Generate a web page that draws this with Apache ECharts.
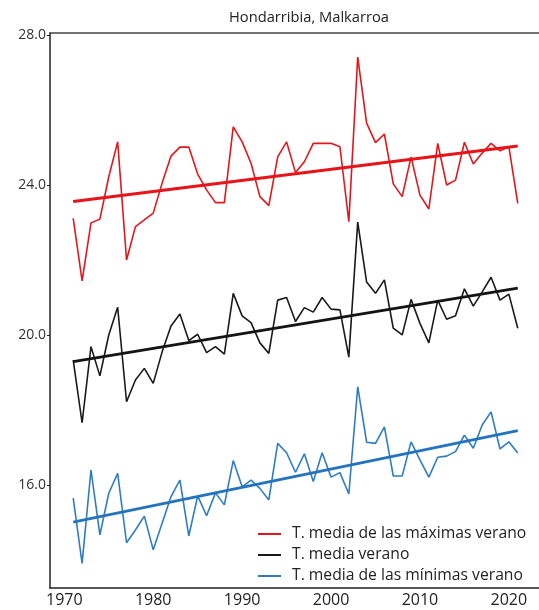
<!DOCTYPE html>
<html>
<head>
<meta charset="utf-8">
<script src="https://cdn.jsdelivr.net/npm/echarts@6/dist/echarts.min.js"></script>
<style>
html,body{margin:0;padding:0;background:#fff;}
#chart{width:539px;height:610px;}
</style>
</head>
<body>
<div id="chart"></div>
<script>
const years = [];
for (let y = 1971; y <= 2021; y++) years.push(y);

const tMax = [23.11,21.44,22.99,23.09,24.22,25.15,22.00,22.89,23.07,23.25,
  24.05,24.77,25.01,25.01,24.29,23.87,23.53,23.53,25.55,25.15,
  24.58,23.69,23.45,24.75,25.15,24.33,24.62,25.11,25.11,25.11,
  25.02,23.02,27.41,25.65,25.13,25.36,24.03,23.69,24.75,23.73,
  23.36,25.11,24.00,24.13,25.14,24.56,24.85,25.11,24.91,25.02,23.51];

const tMean = [19.33,17.66,19.69,18.91,20.00,20.74,18.22,18.80,19.11,18.71,
  19.55,20.24,20.56,19.85,20.02,19.53,19.69,19.49,21.11,20.51,
  20.33,19.79,19.51,20.93,21.00,20.36,20.73,20.61,21.00,20.69,
  20.67,19.41,23.01,21.41,21.11,21.47,20.18,20.00,20.95,20.31,
  19.79,20.93,20.42,20.51,21.23,20.77,21.15,21.54,20.93,21.09,20.18];

const tMin = [15.65,13.91,16.40,14.67,15.78,16.31,14.46,14.80,15.17,14.27,
  14.98,15.69,16.13,14.64,15.71,15.18,15.79,15.47,16.65,15.95,
  16.13,15.91,15.60,17.11,16.86,16.34,16.83,16.09,16.86,16.21,
  16.33,15.76,18.62,17.14,17.11,17.55,16.24,16.24,17.15,16.67,
  16.21,16.74,16.77,16.89,17.33,16.98,17.60,17.95,16.96,17.15,16.85];

// trend line end values (1971, 2021)
const trendYears = [1971, 2021];
const trendMax = [23.56, 25.04];
const trendMean = [19.29, 21.25];
const trendMin = [15.01, 17.45];

const xTicks = [1970, 1980, 1990, 2000, 2010, 2020];
const yTicks = [16, 20, 24, 28];

const names = ['T. media de las máximas verano', 'T. media verano', 'T. media de las mínimas verano'];
const colors = ['#e3161c', '#1a1a1a', '#2f7cc2'];
const trendColors = ['#e8141a', '#141414', '#2474bd'];

const pair = (xs, ys) => xs.map((x, i) => [x, ys[i]]);

const FONT = 'Open Sans';
const chart = echarts.init(document.getElementById('chart'), null, {renderer: 'canvas'});

const series = [];
[tMax, tMean, tMin].forEach((d, i) => {
  series.push({
    name: names[i], type: 'line', data: pair(years, d), symbol: 'none',
    lineStyle: {color: colors[i], width: 1.6}, itemStyle: {color: colors[i]}, z: 3
  });
});
[trendMax, trendMean, trendMin].forEach((d, i) => {
  series.push({
    name: 'trend' + i, type: 'line', data: pair(trendYears, d), symbol: 'none',
    lineStyle: {color: trendColors[i], width: 3}, z: 4
  });
});

chart.setOption({
  animation: false,
  backgroundColor: '#fff',
  title: {
    text: 'Hondarribia, Malkarroa', left: 224, top: 5,
    textStyle: {fontFamily: FONT, fontSize: 14.7, fontWeight: 'normal', color: '#222'}
  },
  legend: {
    data: names, orient: 'vertical', left: 258, top: 526, padding: 0,
    icon: 'path://M0,0 L23,0 L23,2 L0,2 Z',
    itemWidth: 23, itemHeight: 14, itemGap: 5,
    textStyle: {fontFamily: FONT, fontSize: 15.7, color: '#222', padding: [0, 0, 0, 6]}
  },
  grid: {left: 50, right: 0, top: 33, bottom: 22, containLabel: false},
  xAxis: [{
    type: 'value', min: 1968.39, max: 2023.39, position: 'bottom',
    splitLine: {show: false},
    axisLine: {show: true, lineStyle: {color: '#222', width: 1.5}},
    axisTick: {show: false},
    axisLabel: {customValues: xTicks, formatter: v => String(v), margin: 4,
      fontFamily: FONT, fontSize: 16, color: '#222'}
  }, {
    type: 'value', min: 1968.39, max: 2023.39, position: 'top',
    splitLine: {show: false},
    axisLine: {show: true, lineStyle: {color: '#444', width: 1.5}},
    axisTick: {show: false}, axisLabel: {show: false}
  }],
  yAxis: {
    type: 'value', min: 13.253, max: 28.053,
    splitLine: {show: false},
    axisLine: {show: true, lineStyle: {color: '#222', width: 1.5}},
    axisTick: {show: true, customValues: yTicks, length: 3, lineStyle: {color: '#222'}},
    axisLabel: {customValues: yTicks, formatter: v => v.toFixed(1), margin: 4,
      fontFamily: FONT, fontSize: 14, color: '#333'}
  },
  series: series
});
</script>
</body>
</html>
